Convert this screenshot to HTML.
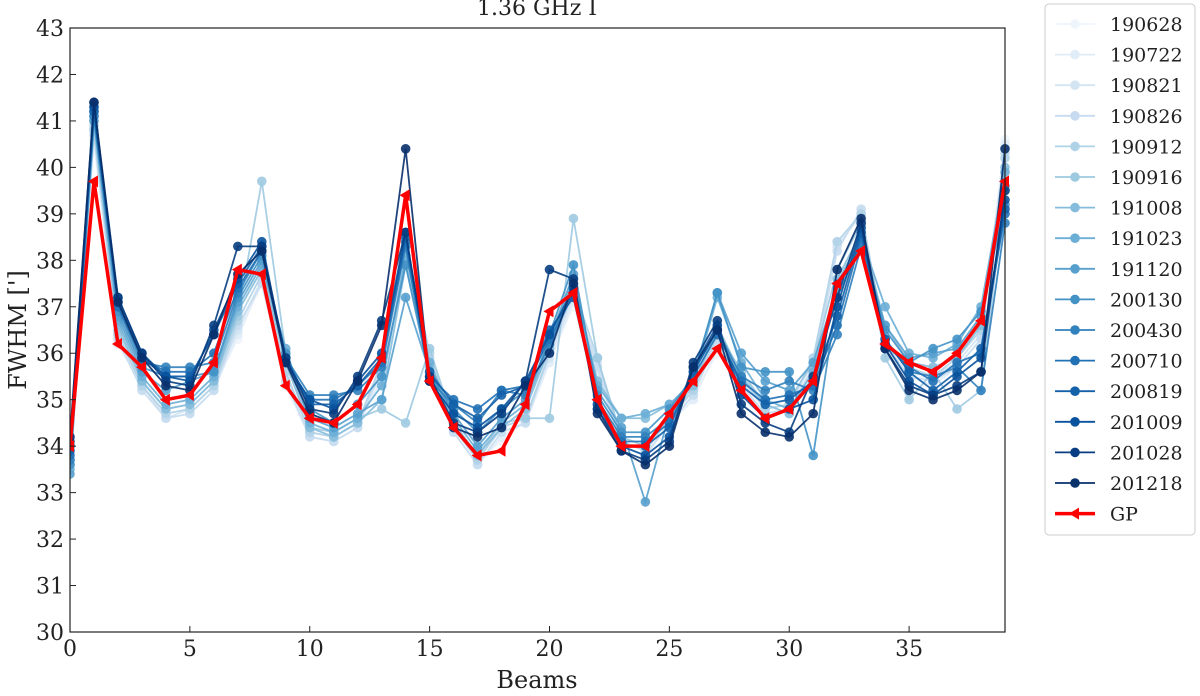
<!DOCTYPE html>
<html><head><meta charset="utf-8"><style>
body{margin:0;background:#fff}
svg text{font-family:"DejaVu Serif","Liberation Serif",serif;fill:#222}
</style></head><body>
<svg id="chart" width="1200" height="691" viewBox="0 0 1200 691" xmlns="http://www.w3.org/2000/svg">
<text x="537" y="15" font-size="22" text-anchor="middle">1.36 GHz I</text>
<text x="0" y="0" font-size="24" text-anchor="middle" transform="translate(26,330) rotate(-90)">FWHM [']</text>
<text x="537" y="688" font-size="24" text-anchor="middle">Beams</text>
<g id="plot"></g>
<g id="legend"></g>
</svg>
<script>
const seriesNames=["190628","190722","190821","190826","190912","190916","191008","191023","191120","200130","200430","200710","200819","201009","201028","201218"];
const seriesColors=["#eef5fc","#e0ecf8","#d3e4f3","#c6dbef","#b0d2e7","#9ecae1","#85bcdc","#6baed6","#57a0ce","#4292c6","#3181bd","#2171b5","#1361a9","#08519c","#083e81","#08306b"];
const gp=[34.0,39.7,36.2,35.7,35.0,35.1,35.8,37.8,37.7,35.3,34.6,34.5,34.9,35.9,39.4,35.4,34.4,33.8,33.9,34.9,36.9,37.3,35.0,34.0,34.0,34.7,35.4,36.1,35.2,34.6,34.8,35.4,37.5,38.2,36.2,35.8,35.6,36.0,36.7,39.7];
const s0=[34.2,40.5,36.3,35.4,34.7,34.8,35.3,36.3,37.6,35.4,34.3,34.2,34.5,35.4,38.0,35.6,34.4,33.7,34.1,34.6,35.9,37.0,35.5,34.1,33.9,34.6,35.1,36.0,35.4,34.8,34.9,35.6,38.4,38.9,36.3,35.6,35.4,35.8,36.4,40.6];
const s1=[34.1,40.6,36.2,35.3,34.6,34.7,35.2,36.4,37.5,35.3,34.2,34.1,34.4,35.5,38.1,35.7,34.3,33.6,34.2,34.5,35.8,37.1,35.6,34.0,33.8,34.5,35.0,36.1,35.3,34.7,34.8,35.7,38.3,39.0,36.2,35.5,35.3,35.7,36.3,40.5];
const s2=[34.0,40.8,36.4,35.3,34.6,34.8,35.3,36.5,37.6,35.5,34.3,34.2,34.5,35.6,38.2,35.8,34.4,33.7,34.4,34.6,35.9,37.2,35.8,34.1,33.9,34.6,35.2,36.2,35.4,34.8,34.9,35.8,38.3,39.0,36.3,35.6,35.5,35.8,36.4,40.4];
const s3=[33.9,40.7,36.3,35.2,34.6,34.7,35.2,36.6,37.5,35.4,34.2,34.1,34.4,35.7,38.3,35.9,34.3,33.6,34.3,34.5,36.0,37.3,35.7,34.0,33.8,34.5,35.1,36.3,35.3,34.7,34.8,35.7,38.2,39.1,36.2,35.5,35.4,35.7,36.3,40.3];
const s4=[33.8,40.9,36.4,35.3,34.7,34.8,35.3,36.7,37.7,35.6,34.3,34.2,34.5,35.8,38.4,36.0,34.4,33.7,34.4,34.6,36.0,37.4,35.9,34.1,33.9,34.6,35.2,36.4,35.5,34.8,34.9,35.9,38.4,39.0,36.3,35.7,35.5,35.9,36.5,40.2];
const s5=[33.7,40.8,36.5,35.4,34.8,34.9,35.4,36.8,39.7,36.0,34.4,34.3,34.6,34.8,34.5,36.1,34.5,33.8,34.5,34.6,34.6,38.9,35.9,34.2,34.0,34.6,35.3,36.5,35.6,34.9,35.0,35.8,37.8,38.8,35.9,35.0,35.6,34.8,35.2,39.5];
const s6=[33.6,41.0,36.6,35.4,34.8,34.9,35.4,36.9,37.8,35.8,34.4,34.2,34.5,35.0,37.9,35.7,34.5,33.8,34.4,34.8,36.1,37.5,35.4,34.6,34.6,34.9,35.3,36.6,35.5,34.9,34.7,35.5,37.6,38.6,36.6,35.8,35.7,35.9,36.6,40.0];
const s7=[33.5,41.1,36.7,35.5,34.9,35.0,35.5,37.0,37.9,36.1,34.5,34.3,34.6,35.3,38.1,35.8,34.6,33.9,34.5,34.9,36.2,37.6,35.3,34.6,34.7,34.9,35.4,37.2,35.8,35.0,34.8,35.6,37.5,38.5,37.0,36.0,35.9,36.2,37.0,39.9];
const s8=[33.4,41.0,36.8,35.6,35.2,35.4,35.6,37.1,38.0,35.9,34.6,34.4,34.7,35.0,37.2,35.6,34.7,34.0,34.6,35.0,36.3,37.7,35.2,34.4,32.8,34.7,35.5,37.3,36.0,35.4,35.2,35.8,37.4,38.4,36.6,35.9,36.0,36.1,36.8,39.6];
const s9=[33.6,41.2,36.9,35.7,35.5,35.5,35.6,37.2,38.1,36.0,34.8,34.5,34.9,35.5,37.9,35.5,34.8,34.3,34.8,35.2,36.4,37.9,35.1,34.3,34.3,34.8,35.5,37.3,35.7,35.6,35.6,33.8,37.2,38.4,36.5,35.8,36.1,36.3,36.9,39.2];
const s10=[33.7,41.1,37.0,35.8,35.7,35.7,35.8,37.3,38.2,35.9,35.1,35.1,35.2,35.7,38.3,35.4,34.9,34.5,35.2,35.1,36.2,37.3,35.0,34.2,34.2,34.6,35.6,36.5,35.5,35.2,35.4,35.2,36.4,38.3,36.3,35.6,35.5,35.7,35.2,38.8];
const s11=[33.8,41.3,37.0,35.9,35.6,35.6,36.0,37.4,38.2,35.8,35.0,35.0,35.3,35.8,38.4,35.5,35.0,34.8,35.2,35.3,36.3,37.3,34.9,34.1,34.1,34.5,35.5,36.4,35.4,35.0,35.1,35.3,36.6,38.5,36.2,35.7,35.4,35.8,36.0,39.0];
const s12=[33.9,41.2,37.1,35.9,35.5,35.5,36.4,37.5,38.3,35.9,34.9,34.9,35.3,35.9,38.5,35.6,34.9,34.6,35.1,35.3,36.5,37.2,34.9,34.0,34.0,34.4,35.6,36.5,35.3,34.9,35.0,35.4,36.8,38.6,36.3,35.6,35.2,35.6,36.1,39.1];
const s13=[34.0,41.3,37.2,36.0,35.5,35.4,36.5,37.6,38.4,35.8,35.0,34.8,35.4,36.0,38.6,35.4,34.7,34.4,34.8,35.4,36.4,37.4,34.8,34.0,33.8,34.2,35.7,36.6,35.1,34.6,34.8,35.0,37.0,38.7,36.2,35.4,35.1,35.5,35.9,39.3];
const s14=[34.1,41.4,37.2,36.0,35.4,35.3,36.6,38.3,38.3,35.9,34.8,34.7,35.5,36.7,38.6,35.5,34.5,34.3,34.7,35.4,37.8,37.6,34.8,33.9,33.7,34.1,35.8,36.7,34.9,34.5,34.3,35.5,37.2,38.8,36.1,35.3,35.1,35.3,35.6,39.5];
const s15=[34.2,41.4,37.1,35.9,35.3,35.2,36.4,37.7,38.2,35.8,34.7,34.5,35.4,36.6,40.4,35.4,34.4,34.2,34.4,35.3,36.0,37.5,34.7,33.9,33.6,34.0,35.7,36.5,34.7,34.3,34.2,34.7,37.8,38.9,36.1,35.2,35.0,35.2,35.6,40.4];
const allSeries=[s0,s1,s2,s3,s4,s5,s6,s7,s8,s9,s10,s11,s12,s13,s14,s15];
const yTicks=[30,31,32,33,34,35,36,37,38,39,40,41,42,43];
const xTicks=[0,5,10,15,20,25,30,35];

const NS="http://www.w3.org/2000/svg";
const L=70,R=1005,T=28,B=632,xMin=0,xMax=39,yMin=30,yMax=43;
const xs=v=>L+(v-xMin)/(xMax-xMin)*(R-L);
const ys=v=>B-(v-yMin)/(yMax-yMin)*(B-T);
function mk(tag,attrs,parent){const e=document.createElementNS(NS,tag);for(const k in attrs)e.setAttribute(k,attrs[k]);parent.appendChild(e);return e;}
const plot=document.getElementById('plot');
const defs=mk('defs',{},plot);
const cp=mk('clipPath',{id:'clip'},defs);
mk('rect',{x:L,y:T-8,width:R-L+8,height:B-T+16},cp);
const g=mk('g',{'clip-path':'url(#clip)'},plot);
allSeries.forEach((s,i)=>{
  const sg=mk('g',{},g);
  
  
  const pts=s.map((v,j)=>xs(j)+','+ys(v)).join(' ');
  mk('polyline',{points:pts,fill:'none',stroke:seriesColors[i],'stroke-width':1.8,opacity:0.9},sg);
  s.forEach((v,j)=>{
    const c=mk('circle',{cx:xs(j),cy:ys(v),r:4.8,fill:seriesColors[i],opacity:0.9},sg);
    
    
  });
});
const gg=mk('g',{},g);


mk('polyline',{points:gp.map((v,j)=>xs(j)+','+ys(v)).join(' '),fill:'none',stroke:'#ff0000','stroke-width':3.5},gg);
gp.forEach((v,j)=>{
  const x=xs(j),y=ys(v);
  const m=mk('polygon',{points:`${x-6},${y} ${x+4},${y-6} ${x+4},${y+6}`,fill:'#ff0000'},gg);
  
  
});
mk('rect',{x:L,y:T,width:R-L,height:B-T,fill:'none',stroke:'#222','stroke-width':1.2},plot);
yTicks.forEach(t=>{
  const y=ys(t);
  mk('line',{x1:L,x2:L+6,y1:y,y2:y,stroke:'#222'},plot);
  const tx=mk('text',{x:L-6,y:y+8,'font-size':22,'text-anchor':'end'},plot);
  tx.textContent=t;
  
  
});
xTicks.forEach(t=>{
  const x=xs(t);
  mk('line',{x1:x,x2:x,y1:B,y2:B-6,stroke:'#222'},plot);
  const tx=mk('text',{x:x,y:B+24,'font-size':22,'text-anchor':'middle'},plot);
  tx.textContent=t;
  
  
});
const lg=document.getElementById('legend');
mk('rect',{x:1045,y:4,width:150,height:531,rx:4,fill:'#fff',stroke:'#ccc'},lg);
const names=seriesNames.concat(['GP']);
names.forEach((n,i)=>{
  const y=24+i*30.6;
  const eg=mk('g',{},lg);
  
  
  const col=i<16?seriesColors[i]:'#ff0000';
  mk('line',{x1:1055,x2:1095,y1:y,y2:y,stroke:col,'stroke-width':i<16?1.8:3.5},eg);
  if(i<16) mk('circle',{cx:1075,cy:y,r:4.8,fill:col},eg);
  else mk('polygon',{points:`1069,${y} 1079,${y-6} 1079,${y+6}`,fill:col},eg);
  const tx=mk('text',{x:1110,y:y+7,'font-size':19},eg);
  tx.textContent=n;
});
</script>
</body></html>
